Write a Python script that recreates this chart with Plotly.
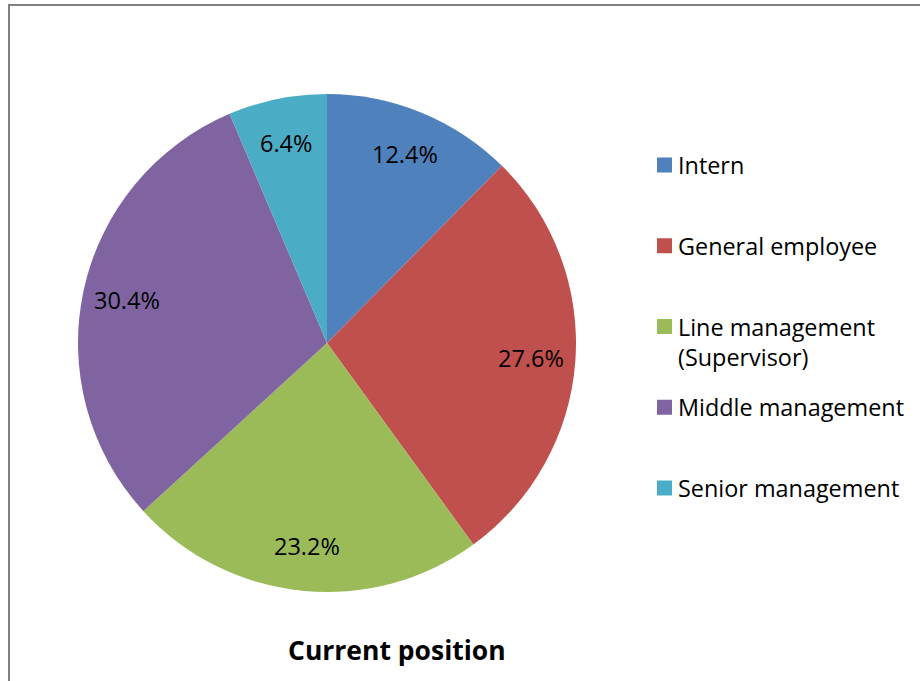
import math
import plotly.graph_objects as go

# ---- data ----
categories = ["Intern", "General employee", "Line management (Supervisor)",
              "Middle management", "Senior management"]
counts = [31, 69, 58, 76, 16]
colors = ["#4F81BD", "#C0504D", "#9BBB59", "#8064A2", "#4BACC6"]
title_text = "Current position"

W, H = 920, 681
FONT = "Open Sans"
cx, cy, R = 327, 343, 249  # pie centre / radius in px


def px(x):
    return x / W


def py(y):
    return 1 - y / H


fig = go.Figure()
fig.add_trace(go.Pie(
    labels=categories,
    values=counts,
    sort=False,
    direction="clockwise",
    rotation=0,
    marker=dict(colors=colors, line=dict(width=0)),
    textinfo="none",
    hoverinfo="label+percent",
    showlegend=False,
    domain=dict(x=[px(cx - R), px(cx + R)], y=[py(cy + R), py(cy - R)]),
))

annotations = []
total = sum(counts)
cum = 0
for v in counts:
    mid = (cum + v / 2) / total * 2 * math.pi
    cum += v
    lx = cx + 0.82 * R * math.sin(mid)
    ly = cy - 0.82 * R * math.cos(mid)
    annotations.append(dict(
        x=px(lx), y=py(ly), xref="paper", yref="paper",
        text=f"{v / total * 100:.1f}%", showarrow=False,
        font=dict(family=FONT, size=23.5, color="black"),
        xanchor="center", yanchor="middle"))

# legend drawn as squares + text, evenly spaced slots
shapes = []
slot0, slot_step = 165, 80.75
for i, (cat, col) in enumerate(zip(categories, colors)):
    yc = slot0 + i * slot_step
    shapes.append(dict(type="rect", xref="paper", yref="paper",
                       x0=px(657), x1=px(672), y0=py(yc + 7.5), y1=py(yc - 7.5),
                       fillcolor=col, line=dict(width=0)))
    label = cat.replace(" (", "<br>(")
    annotations.append(dict(
        x=px(676), y=py(yc - 18), xref="paper", yref="paper",
        text=label, showarrow=False, align="left",
        font=dict(family=FONT, size=23.4, color="black"),
        xanchor="left", yanchor="top"))

annotations.append(dict(
    x=px(397), y=py(650), xref="paper", yref="paper",
    text=f"<b>{title_text}</b>", showarrow=False,
    font=dict(family=FONT, size=26.5, color="black"),
    xanchor="center", yanchor="middle"))

# chart border (left/top visible)
shapes.append(dict(type="rect", xref="paper", yref="paper",
                   x0=px(9), x1=1.05, y0=-0.05, y1=py(5),
                   line=dict(color="#808080", width=2), fillcolor="rgba(0,0,0,0)"))

fig.update_layout(
    width=W, height=H,
    margin=dict(l=0, r=0, t=0, b=0),
    paper_bgcolor="white", plot_bgcolor="white",
    annotations=annotations, shapes=shapes,
    showlegend=False,
)

fig.write_html("out.html", config={"displayModeBar": False},
               post_script="document.body.style.margin='0';")
